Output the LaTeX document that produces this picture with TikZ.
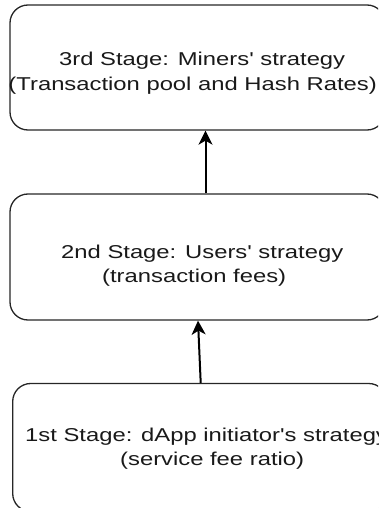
\documentclass[tikz,border=0pt]{standalone}
\usepackage{fontspec}
\setmainfont{Liberation Sans}
\usetikzlibrary{arrows.meta}
\newcommand{\widetext}[1]{\scalebox{1.28}[1]{#1}}
\newcommand{\sq}{\textquotesingle}
\begin{document}
\begin{tikzpicture}[x=1pt,y=1pt,
  stagebox/.style={draw=black!85, line width=1.3pt, rounded corners=18pt, inner sep=0pt},
  lbl/.style={inner sep=0pt, font=\fontsize{18.6}{25}\selectfont, text=black!90},
  arr/.style={draw=black, line width=2pt, -{Stealth[length=14pt,width=14pt,inset=4pt]}}]
\useasboundingbox (0,0) rectangle (378,-508);
\clip (0,0) rectangle (378,-508);
\node[stagebox, minimum width=375pt, minimum height=125pt] (b1) at (197.5,-67.5) {};
\node[stagebox, minimum width=375pt, minimum height=126pt] (b2) at (197.5,-257) {};
\node[stagebox, minimum width=374pt, minimum height=128pt] (b3) at (199.7,-447.5) {};
\node[lbl, anchor=base west] (t1a) at (59,-66) {\widetext{3rd Stage: Miners\sq{} strategy}};
\node[lbl, anchor=base west] (t1b) at (8.3,-91) {\widetext{(Transaction pool and Hash Rates)}};
\node[lbl, anchor=base west] (t2a) at (61,-258.3) {\widetext{2nd Stage: Users\sq{} strategy}};
\node[lbl, anchor=base west] (t2b) at (102,-282) {\widetext{(transaction fees)}};
\node[lbl, anchor=base west] (t3a) at (25,-441.7) {\widetext{1st Stage: dApp initiator\sq{}s strategy}};
\node[lbl, anchor=base west] (t3b) at (120,-465) {\widetext{(service fee ratio)}};
\draw[arr] ([xshift=8pt]b2.north) -- ([xshift=8pt]b1.south);
\draw[arr] ([xshift=1pt]b3.north) -- ([xshift=0.5pt]b2.south);
\end{tikzpicture}
\end{document}
